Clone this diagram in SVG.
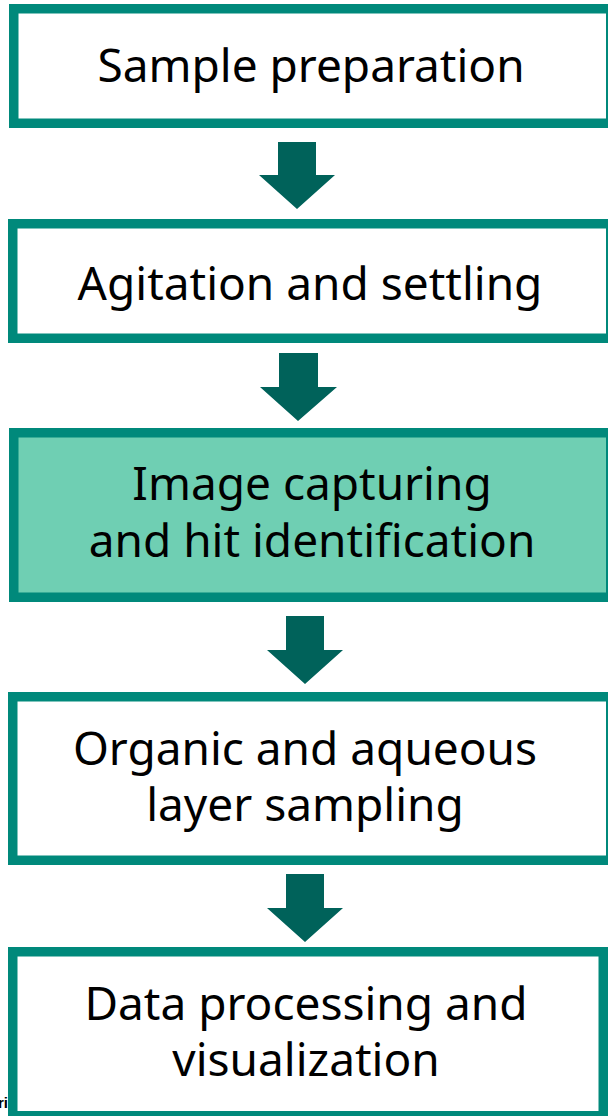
<svg xmlns="http://www.w3.org/2000/svg" width="608" height="1116" viewBox="0 0 608 1116">
<defs>
<style>
.box{fill:#ffffff;stroke:#00897b;stroke-width:9.5}
.hl{fill:#6fcfb3}
.t{font-family:"Noto Sans","Open Sans",sans-serif;font-size:46px;fill:#000;text-anchor:middle}
.arr{fill:#00625a}
.frag{font-family:"Liberation Sans",Arial,sans-serif;font-size:15px;font-weight:bold;fill:#000}
</style>
</defs>
<rect width="608" height="1116" fill="#ffffff"/>
<text class="frag" x="-2" y="1108">ri</text>
<g id="node1">
<rect class="box" x="13.75" y="8.75" width="597" height="114.5"/>
<text class="t" x="311" y="82">Sample preparation</text>
</g>
<g id="node2">
<rect class="box" x="12.75" y="223.75" width="598" height="114.5"/>
<text class="t" x="310" y="300">Agitation and settling</text>
</g>
<g id="node3">
<rect class="box hl" x="13.75" y="432.75" width="597" height="164.5"/>
<text class="t" x="312" y="500">Image capturing</text>
<text class="t" x="312" y="557">and hit identification</text>
</g>
<g id="node4">
<rect class="box" x="12.75" y="696.75" width="598" height="163.5"/>
<text class="t" x="305" y="765">Organic and aqueous</text>
<text class="t" x="305" y="821">layer sampling</text>
</g>
<g id="node5">
<rect class="box" x="12.75" y="951.75" width="590.5" height="164"/>
<text class="t" x="306" y="1020">Data processing and</text>
<text class="t" x="306" y="1076">visualization</text>
</g>
<g id="connectors">
<polygon class="arr" points="278,142 316,142 316,175 335,175 297,209 259,175 278,175"/>
<polygon class="arr" points="279,353 318,353 318,387 337,387 298,421 260,387 279,387"/>
<polygon class="arr" points="286,616 324,616 324,650 343,650 305,684 267,650 286,650"/>
<polygon class="arr" points="286,874 324,874 324,908 343,908 305,942 267,908 286,908"/>
</g>
</svg>
